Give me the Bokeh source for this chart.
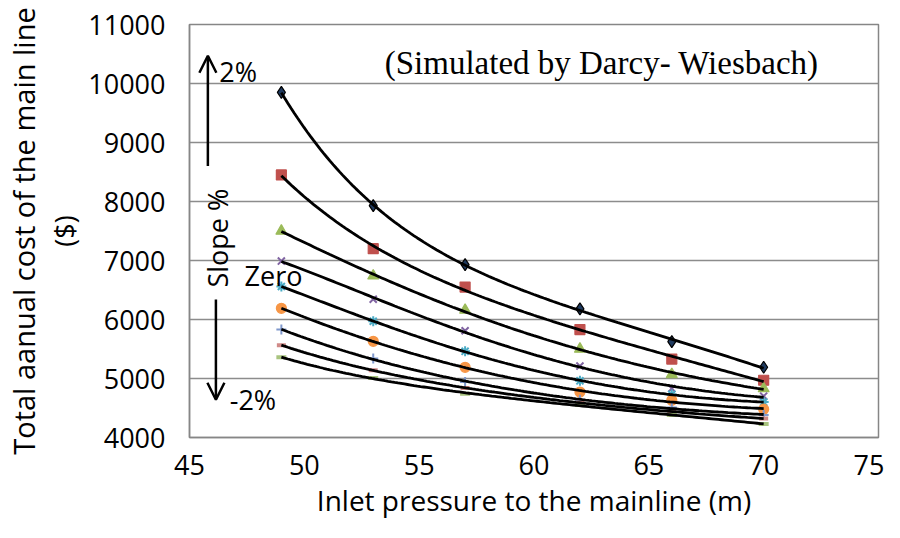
import numpy as np
from bokeh.plotting import figure
from bokeh.models import LinearAxis, Label, Arrow, OpenHead, FixedTicker
from bokeh.embed import file_html
from bokeh.resources import INLINE

# ---- data ----
pressure = [49, 53, 57, 62, 66, 70]
s1 = [9850, 7930, 6930, 6180, 5625, 5190]   # slope +2% (diamond)
s2 = [8450, 7200, 6550, 5830, 5330, 4970]   # square
s3 = [7500, 6740, 6160, 5500, 5070, 4830]   # triangle
s4 = [6990, 6345, 5810, 5210, 4830, 4700]   # x
s5 = [6560, 5970, 5460, 4960, 4730, 4600]   # asterisk (zero slope)
s6 = [6190, 5630, 5190, 4770, 4630, 4480]   # circle
s7 = [5830, 5340, 4940, 4640, 4510, 4380]   # plus
s8 = [5565, 5140, 4840, 4590, 4440, 4320]   # red dash
s9 = [5360, 5010, 4740, 4550, 4380, 4230]   # green dash (slope -2%)

x_ticks = [45, 50, 55, 60, 65, 70, 75]
y_ticks = [4000, 5000, 6000, 7000, 8000, 9000, 10000, 11000]

series = [
    (s1, "diamond", "#1f3a5f", "black", 12),
    (s2, "square", "#c0504d", "#c0504d", 10),
    (s3, "triangle", "#9bbb59", "#9bbb59", 11),
    (s4, "x", "#8064a2", "#8064a2", 10),
    (s5, "asterisk", "#4bacc6", "#4bacc6", 10),
    (s6, "circle", "#f79646", "#f79646", 10),
    (s7, "cross", "#7f98cc", "#7f98cc", 10),
    (s8, "dash", "#d08a88", "#d08a88", 9),
    (s9, "dash", "#a9c47f", "#a9c47f", 10),
]

FONT = "Open Sans"
FS = "27px"

p = figure(width=884, height=522, x_range=(45, 75), y_range=(4000, 11000),
           output_backend="svg", toolbar_location=None,
           min_border_left=188, min_border_right=6, min_border_top=24,
           min_border_bottom=85)

p.outline_line_color = "#868686"
p.outline_line_width = 1.5
p.xgrid.visible = False
p.ygrid.grid_line_color = "#8c8c8c"
p.ygrid.grid_line_width = 1.5
p.ygrid.ticker = FixedTicker(ticks=y_ticks)

xa = p.xaxis[0]
xa.ticker = FixedTicker(ticks=x_ticks)
xa.axis_label = "Inlet pressure to the mainline (m)"
ya = p.yaxis[0]
ya.ticker = FixedTicker(ticks=y_ticks)
ya.axis_label = "($)"

for ax in (xa, ya):
    ax.axis_line_color = "#868686"
    ax.axis_line_width = 1.5
    ax.major_tick_out = 0
    ax.major_tick_in = 0
    ax.minor_tick_out = 0
    ax.minor_tick_in = 0
    ax.major_label_text_font = FONT
    ax.major_label_text_font_size = FS
    ax.major_label_text_color = "black"
    ax.axis_label_text_font = FONT
    ax.axis_label_text_font_size = FS
    ax.axis_label_text_font_style = "normal"
    ax.axis_label_text_color = "black"

xa.axis_label_text_font_size = "28px"
xa.major_label_standoff = 17
xa.axis_label_standoff = 3
ya.major_label_standoff = 24
ya.axis_label_standoff = 2

outer = LinearAxis(axis_label="Total aanual cost of the main line")
outer.ticker = FixedTicker(ticks=[])
outer.axis_line_color = None
outer.major_tick_out = 0
outer.major_tick_in = 0
outer.minor_tick_out = 0
outer.minor_tick_in = 0
outer.major_label_text_font_size = "0px"
outer.major_label_standoff = 0
outer.axis_label_standoff = 1
outer.axis_label_text_font = FONT
outer.axis_label_text_font_size = "29px"
outer.axis_label_text_font_style = "normal"
outer.axis_label_text_color = "black"
p.add_layout(outer, "left")

for vals, marker, fill, line, size in series:
    if marker == "dash":
        p.scatter(pressure, vals, marker=marker, size=size, line_color=line,
                  line_width=4)
    elif marker in ("x", "asterisk", "cross"):
        p.scatter(pressure, vals, marker=marker, size=size, line_color=line,
                  line_width=2)
    else:
        p.scatter(pressure, vals, marker=marker, size=size, fill_color=fill,
                  line_color=line, line_width=1.2)

# smooth trend curves fitted to each series (cubic in 1/x)
xs = np.array(pressure, dtype=float)
xfit = np.linspace(min(pressure), max(pressure), 150)
for vals, *_ in series:
    coef = np.polyfit(1.0 / xs, np.array(vals, dtype=float), 3)
    p.line(xfit, np.polyval(coef, 1.0 / xfit), line_color="black",
           line_width=2.8)

# ---- annotations ----
def lab(x, y, t, **kw):
    opts = dict(text_font=FONT, text_font_size=FS, text_baseline="middle",
                text_color="black")
    opts.update(kw)
    p.add_layout(Label(x=x, y=y, text=t, **opts))

lab(53.5, 10340, "(Simulated by Darcy- Wiesbach)",
    text_font="Liberation Serif", text_font_size="33px")
p.add_layout(Arrow(end=OpenHead(size=17, line_width=2.5, line_color="black"),
                   x_start=45.8, y_start=8600, x_end=45.8, y_end=10470,
                   line_width=2.5, line_color="black"))
lab(46.3, 10200, "2%")
lab(46.2, 7380, "Slope %", text_align="center", angle=90, angle_units="deg")
lab(47.4, 6745, "Zero")
p.add_layout(Arrow(end=OpenHead(size=17, line_width=2.5, line_color="black"),
                   x_start=46.15, y_start=6340, x_end=46.15, y_end=4640,
                   line_width=2.5, line_color="black"))
lab(46.75, 4640, "-2%")

open("out.html", "w").write(file_html(p, INLINE))
